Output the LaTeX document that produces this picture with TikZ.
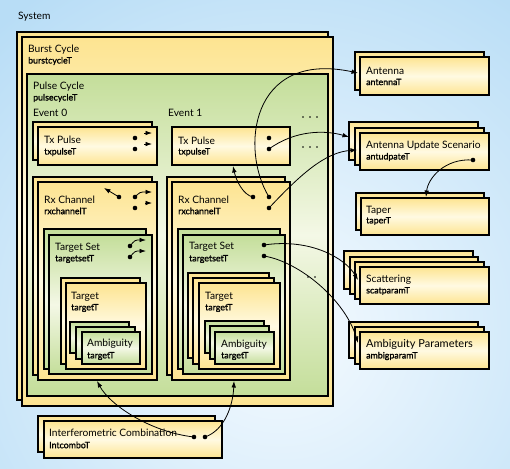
\documentclass[tikz,border=0pt]{standalone}
\usepackage{fontspec}
\setmainfont{Lato}
\newfontfamily\subfont[FakeBold=1.4]{Lato}
\usetikzlibrary{arrows.meta}
\definecolor{yel}{RGB}{253,228,145}
\definecolor{yelpale}{RGB}{255,250,226}
\definecolor{grn}{RGB}{196,222,154}
\definecolor{grnpale}{RGB}{244,248,230}
\definecolor{bgout}{RGB}{184,221,246}
\definecolor{bgin}{RGB}{246,251,255}
\newcommand\bx[6]{\node[#2, anchor=north west, minimum width={(#5-#3)*1pt}, minimum height={(#6-#4)*1pt}] (#1) at (#3,#4) {};}
\newcommand\lbl[5][]{\node[ttl,#1] (#2t) at (#3,#4) {#5};}
\newcommand\slbl[4]{\node[stl] (#1s) at (#2,#3) {#4};}
\tikzset{
  ybox/.style={draw=black, line width=1.1pt, inner sep=0pt, outer sep=0pt, top color=yel, bottom color=yel, middle color=yelpale},
  gbox/.style={draw=black, line width=1.1pt, inner sep=0pt, outer sep=0pt, top color=grn, bottom color=grn, middle color=grnpale},
  ttl/.style={anchor=west, inner sep=0pt, font=\fontsize{10.2}{12}\selectfont},
  stl/.style={anchor=west, inner sep=0pt, font=\subfont\fontsize{8.8}{10}\selectfont},
  dot/.style={circle, fill=black, inner sep=0pt, minimum size=4.6pt},
  conn/.style={line width=0.8pt, -{Latex[length=6.5pt,width=4.6pt]}},
}
\begin{document}
\begin{tikzpicture}[x=1pt,y=-1pt]
\useasboundingbox (0,0) rectangle (510,468);
\begin{scope}
\clip (0,0) rectangle (510,468);
\shade[inner color=bgin, outer color=bgout] (-140,-80) rectangle (700,740);
\end{scope}
\node[ttl] (systemt) at (18,17) {System};
% Burst cycle
\bx{burst0}{ybox}{17}{32}{328}{400}
\bx{burst1}{ybox}{22}{37}{333}{406}
\lbl{burst}{28}{50}{Burst Cycle}
\slbl{burst}{28}{61}{burstcycleT}
% Pulse cycle
\bx{pulse}{gbox}{27}{74}{328}{396}
\lbl{pulse}{33}{87}{Pulse Cycle}
\slbl{pulse}{33}{98}{pulsecycleT}
\lbl{evzero}{33}{113}{Event 0}
\lbl{evone}{168}{113}{Event 1}
\foreach \px in {303,310,317}{\fill (\px,117) circle (0.8); \fill (\px,147) circle (0.8);}
\foreach \px in {308,315}{\fill (\px,277) circle (0.8);}
% Event 0
\bx{txa}{ybox}{33}{122}{152}{160}
\bx{txb}{ybox}{38}{127}{157}{165}
\lbl{txz}{44}{140}{Tx Pulse}
\slbl{txz}{44}{152}{txpulseT}
\bx{rxa}{ybox}{33}{177}{152}{375}
\bx{rxb}{ybox}{38}{182}{157}{380}
\lbl{rxz}{44}{200}{Rx Channel}
\slbl{rxz}{44}{211}{rxchannelT}
\bx{tsa}{gbox}{44}{229}{146}{369}
\bx{tsb}{gbox}{49}{235}{152}{374}
\lbl{tsz}{55}{248}{Target Set}
\slbl{tsz}{55}{259}{targetsetT}
\bx{tga}{ybox}{61}{278}{140}{364}
\bx{tgb}{ybox}{66}{283}{146}{369}
\lbl{tgz}{71}{297}{Target}
\slbl{tgz}{71}{308}{targetT}
\bx{ama}{gbox}{70}{322}{129}{353}
\bx{amb}{gbox}{76}{327}{135}{359}
\bx{amc}{gbox}{82}{332}{140}{364}
\lbl{amz}{87}{344}{Ambiguity}
\slbl{amz}{87}{356}{targetT}
% Event 1
\bx{txo}{ybox}{172}{127}{290}{165}
\lbl{txo}{178}{141}{Tx Pulse}
\slbl{txo}{178}{152}{txpulseT}
\bx{rxoa}{ybox}{167}{177}{285}{375}
\bx{rxob}{ybox}{172}{182}{290}{380}
\lbl{rxo}{178}{200}{Rx Channel}
\slbl{rxo}{178}{211}{rxchannelT}
\bx{tsoa}{gbox}{178}{229}{280}{369}
\bx{tsob}{gbox}{183}{235}{285}{374}
\lbl{tso}{189}{247}{Target Set}
\slbl{tso}{189}{259}{targetsetT}
\bx{tgoa}{ybox}{188}{273}{269}{358}
\bx{tgob}{ybox}{193}{278}{274}{364}
\bx{tgoc}{ybox}{199}{283}{280}{369}
\lbl{tgo}{205}{297}{Target}
\slbl{tgo}{205}{308}{targetT}
\bx{amoa}{gbox}{205}{321}{264}{353}
\bx{amob}{gbox}{210}{326}{269}{359}
\bx{amoc}{gbox}{215}{332}{274}{364}
\lbl{amo}{221}{345}{Ambiguity}
\slbl{amo}{221}{356}{targetT}
% Interferometric
\bx{ica}{ybox}{38}{416}{215}{452}
\bx{icb}{ybox}{44}{421}{222}{458}
\lbl{ic}{49}{433}{Interferometric Combination}
\slbl{ic}{49}{445}{IntcomboT}
% Right side
\bx{anta}{ybox}{355}{52}{484}{90}
\bx{antb}{ybox}{360}{57}{489}{95}
\lbl{ant}{366}{71}{Antenna}
\slbl{ant}{366}{82}{antennaT}
\bx{ausa}{ybox}{349}{122}{478}{160}
\bx{ausb}{ybox}{355}{128}{484}{165}
\bx{ausc}{ybox}{360}{133}{489}{170}
\lbl{aus}{366}{146}{Antenna Update Scenario}
\slbl{aus}{366}{157}{antudpateT}
\bx{tpa}{ybox}{356}{193}{484}{230}
\bx{tpb}{ybox}{361}{198}{489}{235}
\lbl{tp}{366}{211}{Taper}
\slbl{tp}{366}{221}{taperT}
\bx{sca}{ybox}{344}{251}{473}{289}
\bx{scb}{ybox}{350}{257}{478}{294}
\bx{scc}{ybox}{355}{262}{484}{299}
\bx{scd}{ybox}{360}{267}{489}{304}
\lbl{sc}{366}{280}{Scattering}
\slbl{sc}{366}{291}{scatparamT}
\bx{apa}{ybox}{349}{322}{478}{358}
\bx{apb}{ybox}{355}{327}{484}{364}
\bx{apc}{ybox}{360}{332}{489}{369}
\lbl[font=\fontsize{11}{13}\selectfont]{ap}{366}{344}{Ambiguity Parameters}
\slbl{ap}{366}{356}{ambigparamT}
% dots
\node[dot] (dtxza) at (135,138) {};
\node[dot] (dtxzb) at (135,149) {};
\node[dot] (dtxoa) at (269,138) {};
\node[dot] (dtxob) at (269,149) {};
\node[dot] (drxza) at (119,197) {};
\node[dot] (drxzb) at (135,197) {};
\node[dot] (drxzc) at (135,208) {};
\node[dot] (drxoa) at (253,197) {};
\node[dot] (drxob) at (269,197) {};
\node[dot] (drxoc) at (269,208) {};
\node[dot] (dtsza) at (130,246) {};
\node[dot] (dtszb) at (130,257) {};
\node[dot] (dtsoa) at (264,245) {};
\node[dot] (dtsob) at (264,256) {};
\node[dot] (dica) at (194,437) {};
\node[dot] (dicb) at (205,437) {};
\node[dot] (daus) at (473,160) {};
% target coordinates
\coordinate (antin) at (358,73);
\coordinate (ausin1) at (349,137);
\coordinate (ausin2) at (357,150);
\coordinate (txoin) at (233,166);
\coordinate (tpin) at (426,197);
\coordinate (scin) at (358,280);
\coordinate (apin) at (358,343);
\coordinate (rxzin) at (97,381);
\coordinate (rxoin) at (234,381);
% stub coordinates
\coordinate (sa0) at (144,133); \coordinate (sa1) at (152,133);
\coordinate (sb0) at (144,144); \coordinate (sb1) at (152,144);
\coordinate (sc1) at (104,188);
\coordinate (sd1) at (152,192);
\coordinate (se0) at (145,203); \coordinate (se1) at (152,203);
\coordinate (sf1) at (146,240);
\coordinate (sg1) at (146,251);
% connectors
\draw[conn] (drxob.center) .. controls (240,150) and (250,50) .. (antin);
\draw[conn] (dtxob.center) .. controls (295,130) and (325,130) .. (ausin1);
\draw[conn] (drxoc.center) .. controls (300,175) and (325,152) .. (ausin2);
\draw[conn] (drxoa.center) .. controls (243,195) and (236,180) .. (txoin);
\draw[conn] (daus.center) .. controls (445,158) and (428,178) .. (tpin);
\draw[conn] (dtsoa.center) .. controls (310,238) and (345,258) .. (scin);
\draw[conn] (dtsob.center) .. controls (300,262) and (345,300) .. (apin);
\draw[conn] (dica.center) .. controls (150,432) and (110,405) .. (rxzin);
\draw[conn] (dicb.center) .. controls (225,430) and (233,405) .. (rxoin);
% stubs
\draw[conn] (sa0) -- (sa1);
\draw[conn] (sb0) -- (sb1);
\draw[conn] (drxza.center) -- (sc1);
\draw[conn] (drxzb.center) .. controls (140,192) .. (sd1);
\draw[conn] (se0) -- (se1);
\draw[conn] (dtsza.center) .. controls (135,240) .. (sf1);
\draw[conn] (dtszb.center) .. controls (135,251) .. (sg1);
\end{tikzpicture}
\end{document}
